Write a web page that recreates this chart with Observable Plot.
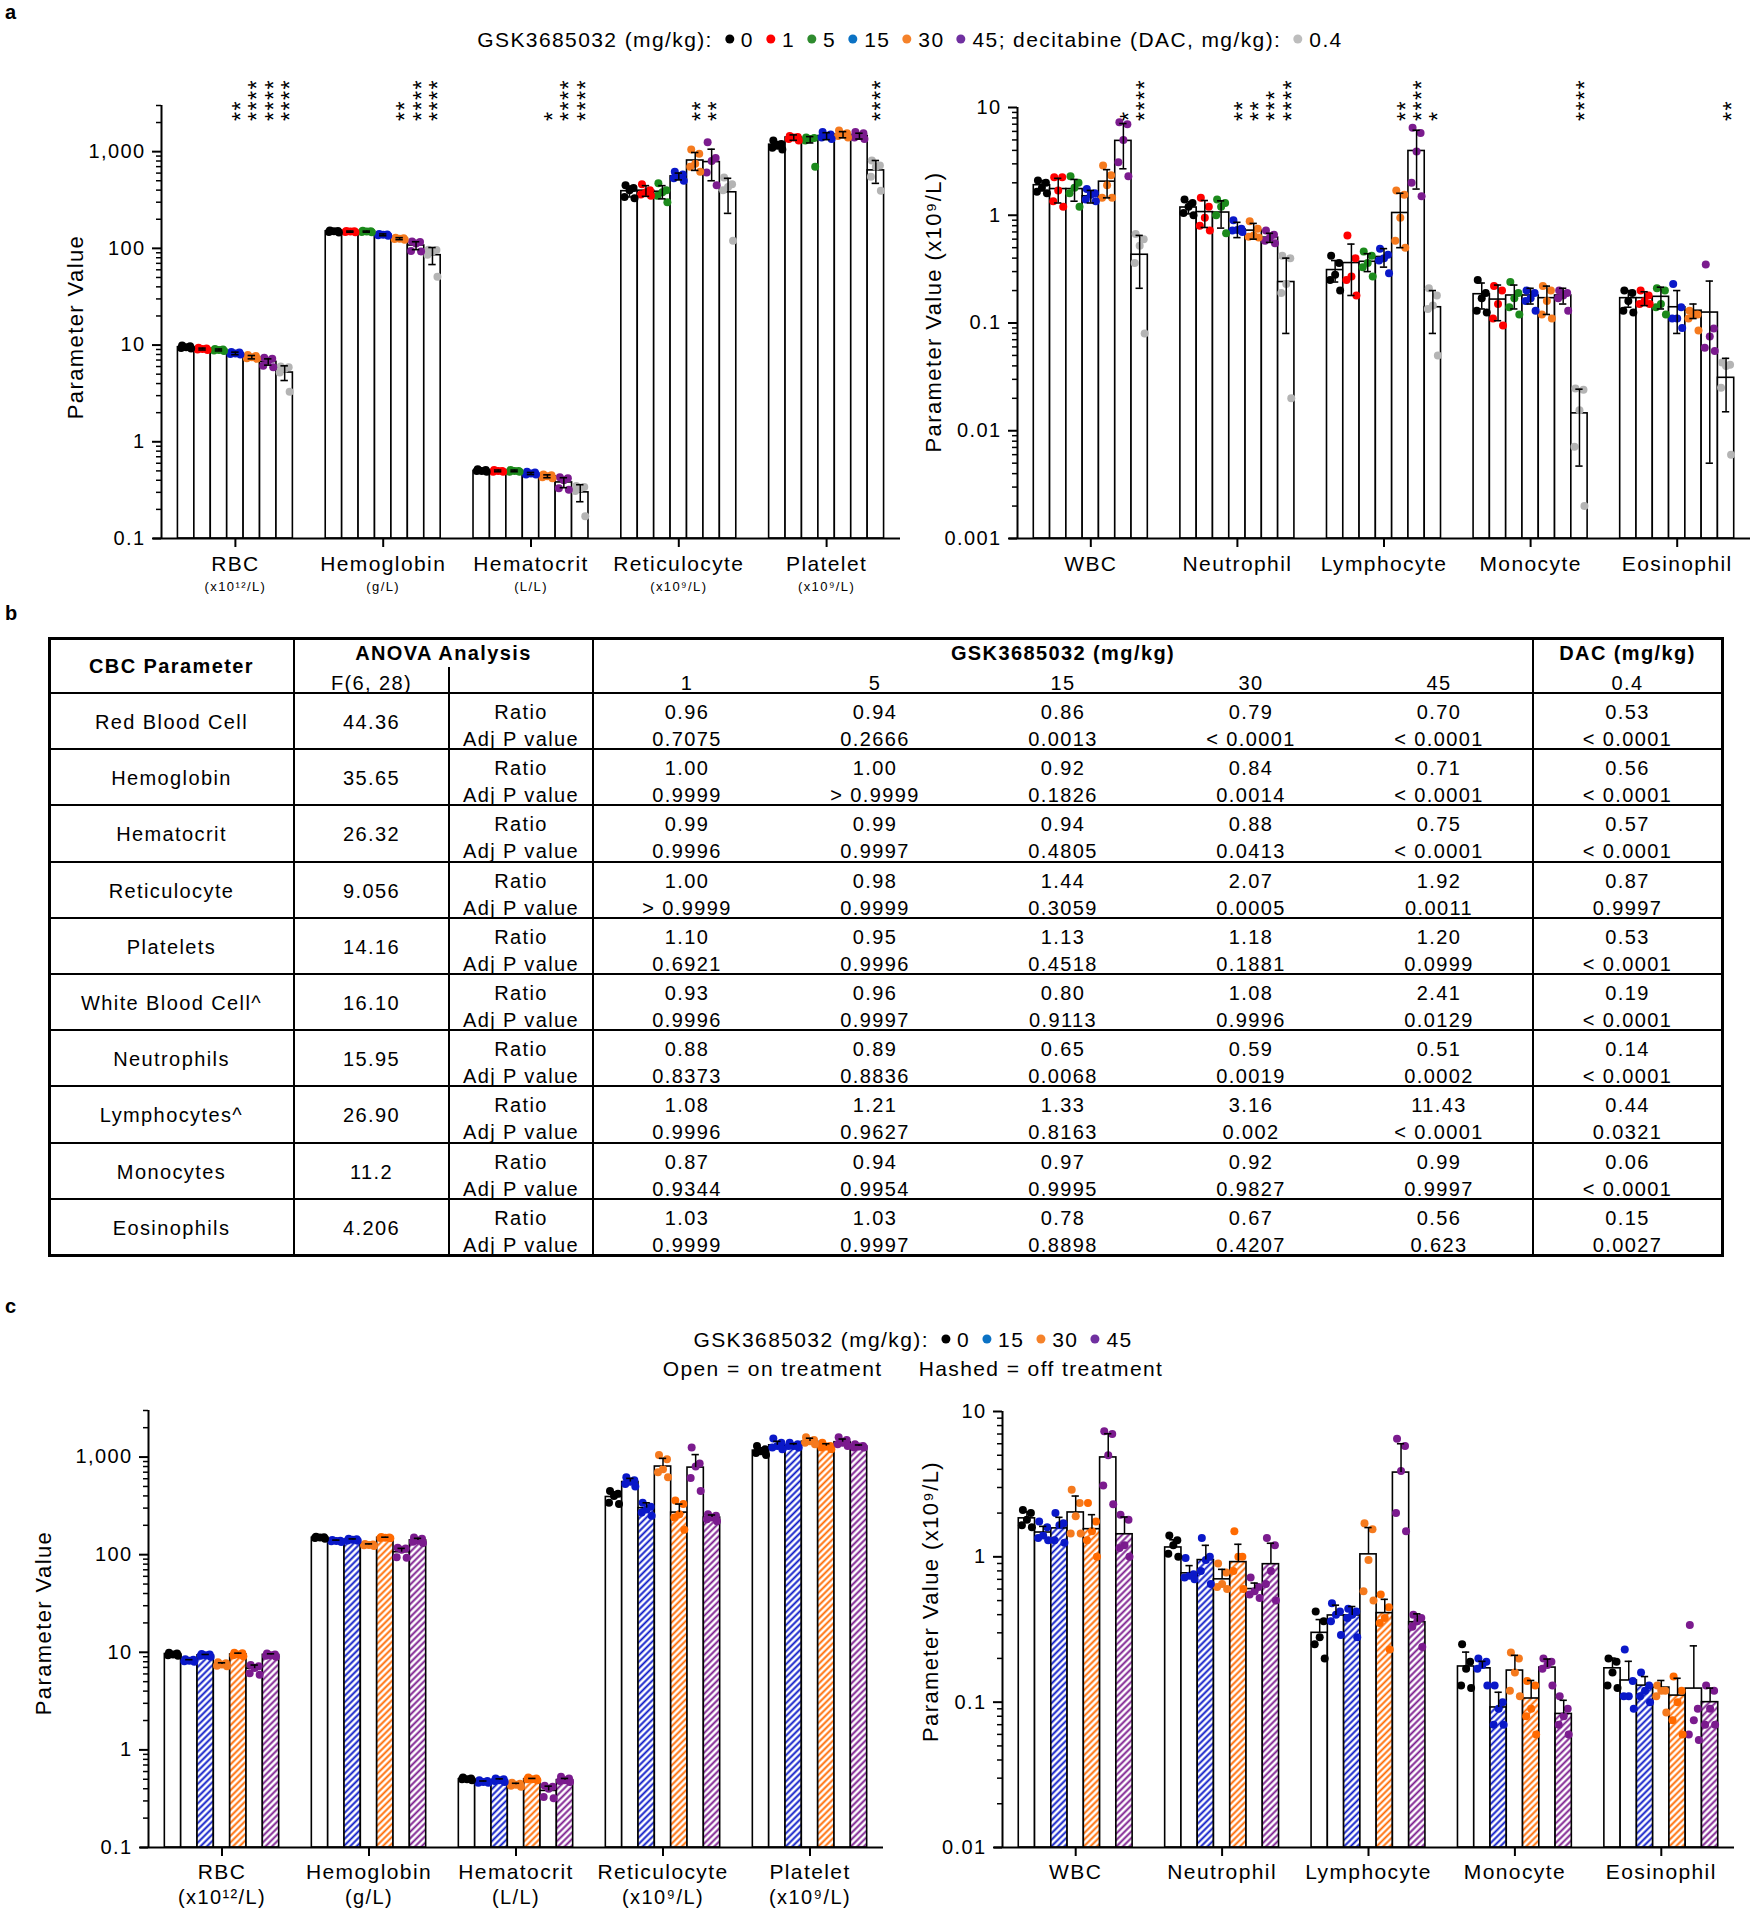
<!DOCTYPE html>
<html><head><meta charset="utf-8">
<script src="https://cdn.jsdelivr.net/npm/d3@7"></script>
<script src="https://cdn.jsdelivr.net/npm/@observablehq/plot@0.6"></script>
<style>
body{margin:0;background:#fff;}
#page{position:relative;width:1757px;height:1920px;font-family:"Liberation Sans",Arial,Helvetica,sans-serif;color:#000;overflow:hidden;background:#fff;letter-spacing:1.4px}
.c{position:absolute;transform:translate(-50%,-50%);white-space:nowrap;line-height:1}
.lbl{position:absolute;font-weight:bold;font-size:20px;line-height:1}
.dot{display:inline-block;width:9px;height:9px;border-radius:50%;margin:0 7px 0 12px;vertical-align:middle;position:relative;top:-2px}
.ln{position:absolute;background:#000}
.wrap{position:absolute}
</style></head>
<body><div id="page"></div>
<script>
const FONT = '"Liberation Sans", Arial, Helvetica, sans-serif';

// ---------- Panel a data ----------
const dosesA = ["0", "1", "5", "15", "30", "45", "DAC 0.4"];
const colorsA = ["#000000", "#ff0000", "#1c8a1c", "#0a18c8", "#f57a1e", "#7b1b8e", "#b4b4b4"];
const legendColorsA = ["#000000", "#ff0000", "#2e8b2e", "#0b72c4", "#f5822a", "#7030a0", "#bdbdbd"];
const legendLabelsA = ["0", "1", "5", "15", "30", "45"];
const legendDacA = "0.4";

const paramsA1 = ["RBC", "Hemoglobin", "Hematocrit", "Reticulocyte", "Platelet"];
const unitsA1 = ["(x10\u00B9\u00B2/L)", "(g/L)", "(L/L)", "(x10\u2079/L)", "(x10\u2079/L)"];
const meansA1 = [
  [9.5, 9.1, 8.9, 8.2, 7.5, 6.7, 5.2],
  [150, 149, 149, 138, 126, 107, 85],
  [0.50, 0.50, 0.50, 0.47, 0.44, 0.38, 0.30],
  [390, 395, 385, 555, 810, 780, 380],
  [1180, 1400, 1330, 1450, 1500, 1450, 640]
];
const sdA1 = [
  [0.3, 0.2, 0.2, 0.25, 0.3, 0.5, 0.9],
  [3, 2, 2, 3, 3, 10, 17],
  [0.01, 0.01, 0.01, 0.012, 0.015, 0.045, 0.06],
  [50, 50, 60, 45, 170, 280, 150],
  [90, 90, 100, 120, 110, 100, 170]
];
const pointsA1 = [
  [[9.9, 9.7, 9.5, 9.3, 9.2], [9.4, 9.2, 9.1, 9.0, 8.9], [9.1, 9.0, 8.9, 8.8, 8.7], [8.5, 8.4, 8.2, 8.1, 8.0], [7.9, 7.7, 7.5, 7.3, 7.2], [7.4, 7.2, 6.9, 6.1, 5.9], [6.0, 5.9, 5.7, 5.2, 3.3]],
  [[153, 151, 150, 148, 146], [151, 150, 149, 148, 147], [152, 150, 149, 148, 147], [141, 139, 138, 137, 135], [129, 127, 126, 125, 123], [118, 116, 112, 94, 93], [97, 96, 93, 86, 51]],
  [[0.52, 0.51, 0.50, 0.50, 0.49], [0.51, 0.50, 0.50, 0.49, 0.49], [0.51, 0.50, 0.50, 0.49, 0.49], [0.49, 0.48, 0.47, 0.46, 0.46], [0.46, 0.45, 0.44, 0.43, 0.42], [0.43, 0.42, 0.40, 0.33, 0.32], [0.35, 0.34, 0.33, 0.31, 0.17]],
  [[450, 420, 400, 340, 330], [460, 400, 380, 360, 350], [470, 400, 380, 350, 300], [620, 580, 560, 530, 500], [1050, 950, 750, 700, 620], [1250, 860, 800, 610, 450], [540, 460, 430, 400, 120]],
  [[1300, 1200, 1150, 1100, 1050], [1450, 1420, 1400, 1350, 1300], [1400, 1380, 1350, 1300, 700], [1600, 1500, 1450, 1400, 1350], [1650, 1550, 1500, 1450, 1400], [1600, 1550, 1450, 1400, 1350], [810, 720, 700, 550, 395]]
];
const starsA1 = [
  [0, 0, 0, 2, 4, 4, 4],
  [0, 0, 0, 0, 2, 4, 4],
  [0, 0, 0, 0, 1, 4, 4],
  [0, 0, 0, 0, 2, 2, 0],
  [0, 0, 0, 0, 0, 0, 4]
];
const yTicksA1 = [0.1, 1, 10, 100, 1000];

const paramsA2 = ["WBC", "Neutrophil", "Lymphocyte", "Monocyte", "Eosinophil"];
const unitsA2 = ["", "", "", "", ""];
const meansA2 = [
  [1.9, 1.75, 1.75, 1.5, 2.05, 4.9, 0.43],
  [1.18, 1.07, 1.06, 0.74, 0.72, 0.62, 0.24],
  [0.31, 0.36, 0.37, 0.41, 1.05, 3.95, 0.14],
  [0.185, 0.165, 0.18, 0.18, 0.17, 0.18, 0.0145],
  [0.17, 0.17, 0.175, 0.14, 0.13, 0.125, 0.031]
];
const sdA2 = [
  [0.2, 0.45, 0.4, 0.2, 0.6, 2.2, 0.22],
  [0.15, 0.3, 0.3, 0.12, 0.12, 0.06, 0.16],
  [0.07, 0.18, 0.07, 0.08, 0.55, 2.2, 0.06],
  [0.05, 0.06, 0.045, 0.03, 0.05, 0.03, 0.0098],
  [0.03, 0.025, 0.04, 0.06, 0.02, 0.12, 0.016]
];
const pointsA2 = [
  [[2.1, 2.0, 1.8, 1.65, 1.6], [2.25, 2.25, 1.7, 1.35, 1.2], [2.3, 2.0, 1.8, 1.6, 1.2], [1.75, 1.6, 1.55, 1.4, 1.35], [2.9, 2.35, 1.9, 1.45, 1.45], [7.3, 7.0, 5.0, 3.1, 2.3], [0.67, 0.6, 0.52, 0.36, 0.08]],
  [[1.4, 1.3, 1.2, 1.05, 1.0], [1.45, 1.2, 0.95, 0.8, 0.72], [1.4, 1.3, 1.2, 1.0, 0.68], [0.9, 0.75, 0.73, 0.72, 0.70], [0.88, 0.75, 0.65, 0.63, 0.62], [0.72, 0.66, 0.62, 0.58, 0.55], [0.42, 0.40, 0.23, 0.19, 0.02]],
  [[0.42, 0.36, 0.28, 0.25, 0.20], [0.65, 0.40, 0.27, 0.25, 0.18], [0.46, 0.42, 0.36, 0.33, 0.27], [0.49, 0.43, 0.40, 0.38, 0.29], [1.7, 1.55, 0.95, 0.58, 0.50], [6.5, 5.8, 3.9, 2.0, 1.5], [0.21, 0.18, 0.145, 0.135, 0.05]],
  [[0.25, 0.19, 0.17, 0.13, 0.125], [0.22, 0.20, 0.15, 0.11, 0.095], [0.24, 0.19, 0.17, 0.14, 0.12], [0.20, 0.19, 0.17, 0.16, 0.13], [0.22, 0.20, 0.16, 0.12, 0.11], [0.20, 0.19, 0.18, 0.17, 0.13], [0.0247, 0.024, 0.0155, 0.0071, 0.002]],
  [[0.20, 0.19, 0.16, 0.13, 0.125], [0.20, 0.18, 0.16, 0.15, 0.15], [0.21, 0.20, 0.15, 0.14, 0.12], [0.23, 0.14, 0.11, 0.11, 0.09], [0.13, 0.12, 0.12, 0.11, 0.085], [0.35, 0.089, 0.075, 0.059, 0.055], [0.043, 0.041, 0.040, 0.025, 0.006]]
];
const starsA2 = [
  [0, 0, 0, 0, 0, 1, 4],
  [0, 0, 0, 2, 2, 3, 4],
  [0, 0, 0, 0, 2, 4, 1],
  [0, 0, 0, 0, 0, 0, 4],
  [0, 0, 0, 0, 0, 0, 2]
];
const yTicksA2 = [0.001, 0.01, 0.1, 1, 10];

// ---------- Panel b data ----------
const tableParams = ["Red Blood Cell", "Hemoglobin", "Hematocrit", "Reticulocyte", "Platelets", "White Blood Cell^", "Neutrophils", "Lymphocytes^", "Monocytes", "Eosinophils"];
const tableF = ["44.36", "35.65", "26.32", "9.056", "14.16", "16.10", "15.95", "26.90", "11.2", "4.206"];
const tableGskDoses = ["1", "5", "15", "30", "45"];
const tableDacDose = "0.4";
const tableRatios = [
  ["0.96", "0.94", "0.86", "0.79", "0.70", "0.53"],
  ["1.00", "1.00", "0.92", "0.84", "0.71", "0.56"],
  ["0.99", "0.99", "0.94", "0.88", "0.75", "0.57"],
  ["1.00", "0.98", "1.44", "2.07", "1.92", "0.87"],
  ["1.10", "0.95", "1.13", "1.18", "1.20", "0.53"],
  ["0.93", "0.96", "0.80", "1.08", "2.41", "0.19"],
  ["0.88", "0.89", "0.65", "0.59", "0.51", "0.14"],
  ["1.08", "1.21", "1.33", "3.16", "11.43", "0.44"],
  ["0.87", "0.94", "0.97", "0.92", "0.99", "0.06"],
  ["1.03", "1.03", "0.78", "0.67", "0.56", "0.15"]
];
const tablePvals = [
  ["0.7075", "0.2666", "0.0013", "< 0.0001", "< 0.0001", "< 0.0001"],
  ["0.9999", "> 0.9999", "0.1826", "0.0014", "< 0.0001", "< 0.0001"],
  ["0.9996", "0.9997", "0.4805", "0.0413", "< 0.0001", "< 0.0001"],
  ["> 0.9999", "0.9999", "0.3059", "0.0005", "0.0011", "0.9997"],
  ["0.6921", "0.9996", "0.4518", "0.1881", "0.0999", "< 0.0001"],
  ["0.9996", "0.9997", "0.9113", "0.9996", "0.0129", "< 0.0001"],
  ["0.8373", "0.8836", "0.0068", "0.0019", "0.0002", "< 0.0001"],
  ["0.9996", "0.9627", "0.8163", "0.002", "< 0.0001", "0.0321"],
  ["0.9344", "0.9954", "0.9995", "0.9827", "0.9997", "< 0.0001"],
  ["0.9999", "0.9997", "0.8898", "0.4207", "0.623", "0.0027"]
];

// ---------- Panel c data ----------
const barsC = ["0", "15 on", "15 off", "30 on", "30 off", "45 on", "45 off"];
const colorsC = ["#000000", "#0a18c8", "#0a18c8", "#f57a1e", "#ff6a00", "#7b1b8e", "#7b1b8e"];
const hatchedC = [false, false, true, false, true, false, true];
const legendLabelsC = ["0", "15", "30", "45"];
const legendColorsC = ["#000000", "#0b72c4", "#f5822a", "#7030a0"];

const paramsC1 = ["RBC", "Hemoglobin", "Hematocrit", "Reticulocyte", "Platelet"];
const unitsC1 = ["(x10\u00B9\u00B2/L)", "(g/L)", "(L/L)", "(x10\u2079/L)", "(x10\u2079/L)"];
const meansC1 = [
  [9.6, 8.2, 9.3, 7.5, 9.5, 6.8, 9.4],
  [149, 138, 142, 126, 149, 106, 140],
  [0.50, 0.47, 0.49, 0.44, 0.50, 0.38, 0.49],
  [390, 555, 300, 800, 270, 780, 240],
  [1165, 1320, 1310, 1440, 1290, 1420, 1280]
];
const sdC1 = [
  [0.3, 0.2, 0.2, 0.3, 0.3, 0.6, 0.25],
  [3, 3, 3, 3, 2, 10, 7],
  [0.01, 0.01, 0.015, 0.015, 0.01, 0.045, 0.02],
  [50, 50, 40, 170, 60, 280, 15],
  [80, 130, 60, 120, 80, 110, 50]
];
const pointsC1 = [
  [[9.9, 9.7, 9.5, 9.3, 9.2], [8.5, 8.4, 8.2, 8.1, 8.0], [9.6, 9.5, 9.3, 9.2, 9.0], [7.9, 7.7, 7.5, 7.3, 7.2], [9.9, 9.8, 9.5, 9.3, 9.1], [7.4, 7.2, 6.9, 6.1, 5.9], [9.7, 9.5, 9.3, 9.2, 9.0]],
  [[153, 151, 150, 148, 146], [141, 139, 138, 137, 135], [146, 144, 142, 140, 139], [129, 127, 126, 125, 123], [152, 150, 149, 148, 147], [118, 116, 112, 94, 93], [150, 146, 140, 136, 132]],
  [[0.52, 0.51, 0.50, 0.50, 0.49], [0.49, 0.48, 0.47, 0.46, 0.46], [0.51, 0.50, 0.49, 0.48, 0.47], [0.46, 0.45, 0.44, 0.43, 0.42], [0.52, 0.51, 0.50, 0.50, 0.49], [0.43, 0.42, 0.40, 0.33, 0.32], [0.53, 0.51, 0.49, 0.48, 0.47]],
  [[450, 420, 400, 340, 330], [620, 580, 560, 530, 500], [340, 310, 290, 270, 250], [1050, 950, 750, 700, 620], [360, 330, 260, 240, 180], [1250, 860, 800, 610, 450], [260, 250, 240, 230, 220]],
  [[1300, 1200, 1150, 1100, 1050], [1550, 1400, 1300, 1250, 1200], [1400, 1350, 1300, 1300, 1250], [1600, 1500, 1450, 1400, 1350], [1400, 1300, 1280, 1250, 1200], [1600, 1500, 1400, 1350, 1300], [1350, 1300, 1280, 1250, 1250]]
];
const yTicksC1 = [0.1, 1, 10, 100, 1000];

const paramsC2 = ["WBC", "Neutrophil", "Lymphocyte", "Monocyte", "Eosinophil"];
const unitsC2 = ["", "", "", "", ""];
const meansC2 = [
  [1.84, 1.47, 1.57, 2.02, 1.55, 4.83, 1.43],
  [1.16, 0.77, 0.95, 0.70, 0.92, 0.60, 0.89],
  [0.30, 0.395, 0.395, 1.04, 0.41, 3.8, 0.355],
  [0.176, 0.171, 0.092, 0.165, 0.106, 0.173, 0.083],
  [0.171, 0.141, 0.13, 0.126, 0.111, 0.124, 0.10]
];
const sdC2 = [
  [0.2, 0.15, 0.3, 0.6, 0.4, 2.2, 0.45],
  [0.15, 0.1, 0.25, 0.12, 0.3, 0.06, 0.35],
  [0.07, 0.07, 0.06, 0.55, 0.1, 2.2, 0.05],
  [0.045, 0.02, 0.025, 0.045, 0.035, 0.025, 0.02],
  [0.03, 0.05, 0.02, 0.015, 0.035, 0.12, 0.025]
];
const pointsC2 = [
  [[2.1, 2.0, 1.8, 1.65, 1.6], [1.75, 1.6, 1.4, 1.35, 1.3], [2.0, 1.7, 1.65, 1.3, 1.25], [2.9, 2.35, 1.9, 1.45, 1.45], [2.35, 1.75, 1.5, 1.3, 1.0], [7.3, 7.0, 5.0, 3.1, 2.3], [1.95, 1.8, 1.2, 1.15, 1.0]],
  [[1.4, 1.3, 1.2, 1.05, 1.0], [0.98, 0.76, 0.74, 0.72, 0.70], [1.35, 1.0, 0.95, 0.8, 0.65], [0.9, 0.78, 0.65, 0.62, 0.60], [1.5, 1.0, 1.0, 0.8, 0.6], [0.72, 0.62, 0.58, 0.55, 0.52], [1.35, 1.2, 0.8, 0.65, 0.5]],
  [[0.42, 0.36, 0.28, 0.25, 0.20], [0.48, 0.42, 0.40, 0.36, 0.29], [0.44, 0.42, 0.40, 0.38, 0.28], [1.7, 1.55, 0.95, 0.58, 0.50], [0.55, 0.45, 0.38, 0.35, 0.23], [6.5, 5.8, 3.9, 2.0, 1.5], [0.40, 0.38, 0.36, 0.33, 0.24]],
  [[0.25, 0.19, 0.17, 0.13, 0.125], [0.20, 0.19, 0.18, 0.17, 0.13], [0.13, 0.10, 0.09, 0.07, 0.07], [0.22, 0.20, 0.16, 0.12, 0.11], [0.14, 0.13, 0.09, 0.08, 0.06], [0.20, 0.19, 0.18, 0.17, 0.13], [0.11, 0.09, 0.08, 0.07, 0.06]],
  [[0.20, 0.19, 0.16, 0.13, 0.125], [0.23, 0.14, 0.11, 0.11, 0.09], [0.16, 0.13, 0.12, 0.11, 0.10], [0.13, 0.12, 0.12, 0.11, 0.085], [0.15, 0.12, 0.10, 0.075, 0.06], [0.34, 0.09, 0.075, 0.06, 0.055], [0.13, 0.12, 0.09, 0.07, 0.07]]
];
const yTicksC2 = [0.01, 0.1, 1, 10];

// ---------- chart builder ----------
const page = document.getElementById("page");
const jitter = [-4, 4, 0, -5, 5];

function chart(cfg) {
  const {id, params, units, barNames, colors, hatched, means, sds, points, stars, yDomain, yTicks,
    left, top, width, height, ml, mr, mt, mb, twoSided, labelDy, unitDy, unitSize, yLabel, yLabelDx, yLabelDy} = cfg;
  const keys = [];
  params.forEach(p => { keys.push(p + "|L"); barNames.forEach((b, j) => keys.push(p + "|" + j)); keys.push(p + "|R"); });
  const bars = [], pts = [];
  params.forEach((p, g) => barNames.forEach((b, j) => {
    const key = p + "|" + j;
    bars.push({key, g, j, mean: means[g][j], sd: sds[g][j], stars: stars ? stars[g][j] : 0});
    points[g][j].forEach((v, i) => pts.push({key, j, i, v}));
  }));
  const [yMin, yMax] = yDomain;
  const mids = params.map(p => p + "|3");
  const groupLabels = params.map((p, g) => ({key: mids[g], name: p, unit: units[g]}));
  const minor = [];
  for (let e = Math.round(Math.log10(yMin)); e < Math.log10(yMax); e++)
    for (let m = 2; m <= 9; m++) { const v = m * Math.pow(10, e); if (v <= yMax * 1.0001) minor.push(v); }
  const bw = (width - ml - mr) / keys.length;
  const fillOf = d => hatched[d.j] ? `url(#${id}-h${d.j})` : "white";
  const marks = [
    Plot.barY(bars, {x: "key", y1: () => yMin, y2: "mean", fill: fillOf, stroke: "black", strokeWidth: 1.6}),
    ...jitter.map((dx, i) => Plot.dot(pts.filter(d => d.i === i), {x: "key", y: "v", r: 4, fill: d => colors[d.j], dx})),
    Plot.ruleX(bars, {x: "key", y1: twoSided ? (d => Math.max(d.mean - d.sd, yMin)) : "mean", y2: d => d.mean + d.sd, stroke: "black", strokeWidth: 1.5}),
    Plot.tickY(bars, {x: "key", y: d => d.mean + d.sd, insetLeft: 4.5, insetRight: 4.5, stroke: "black", strokeWidth: 1.6})
  ];
  if (twoSided) marks.push(Plot.tickY(bars.filter(d => d.mean - d.sd > yMin), {x: "key", y: d => d.mean - d.sd, insetLeft: 4.5, insetRight: 4.5, stroke: "black", strokeWidth: 1.6}));
  marks.push(
    Plot.ruleY([yMin], {y: d => d, strokeWidth: 2, insetLeft: -8}),
    Plot.ruleX([keys[0]], {x: d => d, y1: () => yMin, y2: () => yMax, dx: -bw / 2, strokeWidth: 2}),
    Plot.axisY({ticks: yTicks, tickFormat: ",", tickSize: 9, tickPadding: 7, fontSize: 20, strokeWidth: 2, label: null}),
    Plot.axisY({ticks: minor, tickFormat: () => "", tickSize: 5, strokeWidth: 1.5, label: null}),
    Plot.axisX({ticks: mids, tickFormat: () => "", tickSize: 9, strokeWidth: 2, label: null}),
    Plot.text(groupLabels, {x: "key", text: "name", frameAnchor: "bottom", dy: labelDy, fontSize: 21}),
    Plot.text(groupLabels, {x: "key", text: "unit", frameAnchor: "bottom", dy: unitDy, fontSize: unitSize}),
    Plot.text([yLabel], {text: d => d, frameAnchor: "left", textAnchor: "middle", lineAnchor: "middle", rotate: -90, dx: yLabelDx, dy: yLabelDy, fontSize: 22})
  );
  if (stars) marks.push(Plot.text(bars.filter(d => d.stars > 0), {
    x: "key", text: d => "*".repeat(d.stars), frameAnchor: "top", rotate: -90, textAnchor: "start", lineAnchor: "middle",
    fontSize: 23.4, dx: 6, dy: cfg.starDy}));
  const svg = Plot.plot({
    width, height, marginLeft: ml, marginRight: mr, marginTop: mt, marginBottom: mb,
    x: {type: "band", domain: keys, padding: 0, round: false},
    y: {type: "log", domain: yDomain},
    color: {type: "identity"},
    style: {fontFamily: FONT, fontSize: "20px", color: "black", background: "transparent", letterSpacing: "1.4px", overflow: "visible", maxWidth: "none"},
    marks
  });
  const ns = "http://www.w3.org/2000/svg";
  const defs = document.createElementNS(ns, "defs");
  defs.innerHTML = hatched.map((h, j) => h ?
    `<pattern id="${id}-h${j}" patternUnits="userSpaceOnUse" width="4.6" height="4.6" patternTransform="rotate(45)"><rect width="4.6" height="4.6" fill="white"/><line x1="2.3" y1="-1" x2="2.3" y2="5.6" stroke="${colors[j]}" stroke-width="1.9"/></pattern>` : "").join("");
  svg.insertBefore(defs, svg.firstChild);
  const wrap = document.createElement("div");
  wrap.className = "wrap";
  wrap.style.left = left + "px"; wrap.style.top = top + "px"; wrap.style.width = width + "px"; wrap.style.height = height + "px";
  wrap.appendChild(svg);
  page.appendChild(wrap);
}

function addText(html, x, y, style = "") {
  const d = document.createElement("div");
  d.className = "c";
  d.style.left = x + "px"; d.style.top = y + "px";
  d.style.cssText += style;
  d.innerHTML = html;
  page.appendChild(d);
}
function addLine(x, y, w, h) {
  const d = document.createElement("div");
  d.className = "ln";
  d.style.left = x + "px"; d.style.top = y + "px"; d.style.width = w + "px"; d.style.height = h + "px";
  page.appendChild(d);
}
function addLabel(t, x, y) {
  const d = document.createElement("div");
  d.className = "lbl"; d.textContent = t;
  d.style.left = x + "px"; d.style.top = y + "px";
  page.appendChild(d);
}
const dotHTML = c => `<span class="dot" style="background:${c}"></span>`;

// ---------- panel labels & legends ----------
addLabel("a", 5, 2);
addLabel("b", 5, 603);
addLabel("c", 5, 1296);

addText("GSK3685032 (mg/kg):" + legendLabelsA.map((l, i) => dotHTML(legendColorsA[i]) + l).join("") +
  "; decitabine (DAC, mg/kg):" + dotHTML(legendColorsA[6]) + legendDacA, 910, 39, "font-size:21px");
addText("GSK3685032 (mg/kg):" + legendLabelsC.map((l, i) => dotHTML(legendColorsC[i]) + l).join(""), 913, 1339, "font-size:21px");
addText("Open = on treatment&nbsp;&nbsp;&nbsp;&nbsp; Hashed = off treatment", 913, 1368, "font-size:21px");

// ---------- panel a charts ----------
chart({id: "a1", params: paramsA1, units: unitsA1, barNames: dosesA, colors: colorsA, hatched: dosesA.map(() => false),
  means: meansA1, sds: sdA1, points: pointsA1, stars: starsA1, yDomain: [0.1, 3000], yTicks: yTicksA1,
  left: 0, top: 60, width: 900, height: 540, ml: 161, mr: 0, mt: 45, mb: 62, twoSided: true,
  labelDy: 32, unitDy: 52, unitSize: 13, yLabel: "Parameter Value", yLabelDx: -86, yLabelDy: 5, starDy: 15.5});
chart({id: "a2", params: paramsA2, units: unitsA2, barNames: dosesA, colors: colorsA, hatched: dosesA.map(() => false),
  means: meansA2, sds: sdA2, points: pointsA2, stars: starsA2, yDomain: [0.001, 10], yTicks: yTicksA2,
  left: 900, top: 60, width: 857, height: 540, ml: 117, mr: 7, mt: 47, mb: 62, twoSided: true,
  labelDy: 32, unitDy: 52, unitSize: 13, yLabel: "Parameter Value (x10\u2079/L)", yLabelDx: -84, yLabelDy: -11, starDy: 13.5});

// ---------- panel b table ----------
const tL = 49, tR = 1722, tT = 638, hdrB = 693, rowH = 56.2;
const colX = [49, 294, 449, 593, 1533, 1722];
const gskCenters = tableGskDoses.map((d, i) => colX[3] + (i + 0.5) * (colX[4] - colX[3]) / tableGskDoses.length);
const dacCenter = (colX[4] + colX[5]) / 2;
const tB = hdrB + rowH * tableParams.length;
addLine(tL - 1.5, tT - 1.5, tR - tL + 3, 3);
addLine(tL - 1.5, tB - 1.5, tR - tL + 3, 3);
addLine(tL - 1.5, tT - 1.5, 3, tB - tT + 3);
addLine(tR - 1.5, tT - 1.5, 3, tB - tT + 3);
for (let i = 0; i < tableParams.length; i++) addLine(tL, hdrB + i * rowH - 1, tR - tL, 2);
addLine(colX[1] - 1, tT, 2, tB - tT);
addLine(colX[2] - 1, 667, 2, tB - 667);
addLine(colX[3] - 1, tT, 2, tB - tT);
addLine(colX[4] - 1, tT, 2, tB - tT);
const TS = "font-size:20px";
const TB = "font-size:20px;font-weight:bold";
addText("CBC Parameter", (colX[0] + colX[1]) / 2, 666, TB);
addText("ANOVA Analysis", (colX[1] + colX[3]) / 2, 653, TB);
addText("F(6, 28)", (colX[1] + colX[2]) / 2, 683, TS);
addText("GSK3685032 (mg/kg)", (colX[3] + colX[4]) / 2, 653, TB);
addText("DAC (mg/kg)", dacCenter, 653, TB);
tableGskDoses.forEach((d, i) => addText(d, gskCenters[i], 683, TS));
addText(tableDacDose, dacCenter, 683, TS);
const valCenters = [...gskCenters, dacCenter];
tableParams.forEach((p, r) => {
  const t = hdrB + r * rowH;
  addText(p, (colX[0] + colX[1]) / 2, t + 29, TS);
  addText(tableF[r], (colX[1] + colX[2]) / 2, t + 29, TS);
  addText("Ratio", (colX[2] + colX[3]) / 2, t + 19, TS);
  addText("Adj P value", (colX[2] + colX[3]) / 2, t + 46, TS);
  tableRatios[r].forEach((v, k) => addText(v, valCenters[k], t + 19, TS));
  tablePvals[r].forEach((v, k) => addText(v, valCenters[k], t + 46, TS));
});

// ---------- panel c charts ----------
chart({id: "c1", params: paramsC1, units: unitsC1, barNames: barsC, colors: colorsC, hatched: hatchedC,
  means: meansC1, sds: sdC1, points: pointsC1, stars: null, yDomain: [0.1, 3000], yTicks: yTicksC1,
  left: 0, top: 1380, width: 890, height: 540, ml: 148, mr: 7, mt: 30, mb: 73, twoSided: false,
  labelDy: 31, unitDy: 56, unitSize: 20, yLabel: "Parameter Value", yLabelDx: -105, yLabelDy: -6});
chart({id: "c2", params: paramsC2, units: unitsC2, barNames: barsC, colors: colorsC, hatched: hatchedC,
  means: meansC2, sds: sdC2, points: pointsC2, stars: null, yDomain: [0.01, 10], yTicks: yTicksC2,
  left: 890, top: 1380, width: 867, height: 540, ml: 112, mr: 23, mt: 31, mb: 73, twoSided: false,
  labelDy: 31, unitDy: 56, unitSize: 20, yLabel: "Parameter Value (x10\u2079/L)", yLabelDx: -72, yLabelDy: -28});
</script>
</body></html>
